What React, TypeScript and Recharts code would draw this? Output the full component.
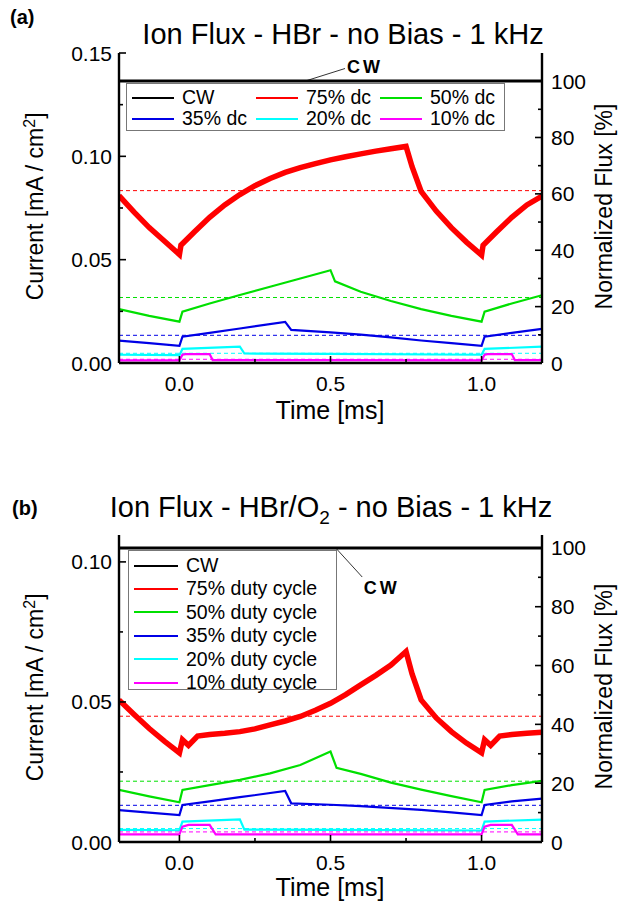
import React from "react";
import {
  LineChart,
  Line,
  XAxis,
  YAxis,
  ReferenceLine,
  ReferenceDot,
  Legend,
} from "recharts";

const FONT = '"Liberation Sans", Arial, sans-serif';

const COLORS = ["#000000", "#ff0000", "#00e000", "#0000e6", "#00ffff", "#ff00ff"];

const X_TICKS = [0, 0.25, 0.5, 0.75, 1.0];
const X_LABELS = [0, 0.5, 1.0];
const R_TICKS = [0, 10, 20, 30, 40, 50, 60, 70, 80, 90, 100];
const R_LABELS = [0, 20, 40, 60, 80, 100];

// ---------- (a) HBr ----------
const A_NAMES = ["CW", "75% dc", "50% dc", "35% dc", "20% dc", "10% dc"];
const A_CW = 0.1364;
const A_YMAX = 0.15;
const A_Y_TICKS = [0, 0.025, 0.05, 0.075, 0.1, 0.125, 0.15];
const A_Y_LABELS = [0, 0.05, 0.1, 0.15];

const A_RED_T = [-0.2, -0.15, -0.1, -0.05, 0, 0.005, 0.05, 0.1, 0.15, 0.2, 0.25, 0.3, 0.35, 0.4, 0.45, 0.5, 0.55, 0.6, 0.65, 0.7, 0.75, 0.77, 0.8, 0.85, 0.9, 0.95, 1.0, 1.005, 1.05, 1.1, 1.15, 1.2];
const A_RED = [0.081, 0.073, 0.0655, 0.059, 0.0525, 0.057, 0.0635, 0.0705, 0.0765, 0.0815, 0.0858, 0.0893, 0.0922, 0.0945, 0.0965, 0.0983, 0.0998, 0.1012, 0.1025, 0.1037, 0.1048, 0.095, 0.083, 0.0735, 0.0655, 0.0585, 0.0522, 0.057, 0.0635, 0.0705, 0.0765, 0.0808];

const A_GREEN_T = [-0.2, -0.1, 0, 0.01, 0.1, 0.2, 0.3, 0.4, 0.5, 0.515, 0.6, 0.7, 0.8, 0.9, 1.0, 1.01, 1.1, 1.2];
const A_GREEN = [0.0261, 0.0228, 0.02, 0.0248, 0.0288, 0.0329, 0.0369, 0.0409, 0.0449, 0.0395, 0.0345, 0.03, 0.0261, 0.0228, 0.02, 0.0248, 0.0288, 0.0328];

const A_BLUE_T = [-0.2, -0.1, 0, 0.01, 0.1, 0.2, 0.35, 0.37, 0.5, 0.6, 0.7, 0.8, 0.9, 1.0, 1.01, 1.1, 1.2];
const A_BLUE = [0.0108, 0.0096, 0.0083, 0.0127, 0.0146, 0.0167, 0.0199, 0.016, 0.0148, 0.0137, 0.0124, 0.0109, 0.0096, 0.0083, 0.0127, 0.0146, 0.0165];

const A_CYAN_T = [-0.2, 0, 0.01, 0.2, 0.215, 0.5, 1.0, 1.01, 1.2];
const A_CYAN = [0.004, 0.0038, 0.0068, 0.0079, 0.0046, 0.0044, 0.004, 0.0068, 0.0079];

const A_MAG_T = [-0.2, 0, 0.01, 0.02, 0.1, 0.11, 0.5, 1.0, 1.01, 1.02, 1.1, 1.11, 1.2];
const A_MAG = [0.0013, 0.0013, 0.004, 0.0043, 0.0043, 0.0014, 0.0014, 0.0013, 0.004, 0.0043, 0.0043, 0.0014, 0.0014];

// time-averaged values (dashed)
const A_MEANS = [0.0834, 0.0317, 0.0134, 0.0047, 0.0018];

// ---------- (b) HBr/O2 ----------
const B_NAMES = ["CW", "75% duty cycle", "50% duty cycle", "35% duty cycle", "20% duty cycle", "10% duty cycle"];
const B_CW = 0.105;
const B_YMAX = 0.1096;
const B_Y_TICKS = [0, 0.025, 0.05, 0.075, 0.1];
const B_Y_LABELS = [0, 0.05, 0.1];

const B_RED_T = [-0.2, -0.15, -0.1, -0.05, 0, 0.01, 0.03, 0.06, 0.1, 0.15, 0.2, 0.25, 0.3, 0.35, 0.4, 0.45, 0.5, 0.55, 0.6, 0.65, 0.7, 0.75, 0.77, 0.8, 0.85, 0.9, 0.95, 1.0, 1.01, 1.03, 1.06, 1.1, 1.15, 1.2];
const B_RED = [0.0507, 0.0455, 0.0405, 0.036, 0.0318, 0.0365, 0.0345, 0.0378, 0.0384, 0.0388, 0.0394, 0.0404, 0.0418, 0.0432, 0.0448, 0.047, 0.0495, 0.0526, 0.0561, 0.0595, 0.0632, 0.068, 0.06, 0.0507, 0.0443, 0.0394, 0.0353, 0.0318, 0.0365, 0.0345, 0.0378, 0.0384, 0.0388, 0.0392];

const B_GREEN_T = [-0.2, -0.1, 0, 0.01, 0.1, 0.2, 0.3, 0.4, 0.5, 0.52, 0.6, 0.7, 0.8, 0.9, 1.0, 1.01, 1.1, 1.2];
const B_GREEN = [0.0186, 0.0163, 0.0142, 0.0186, 0.0203, 0.0222, 0.0245, 0.0275, 0.0323, 0.0265, 0.0243, 0.0212, 0.0187, 0.0164, 0.0142, 0.0186, 0.0203, 0.0218];

const B_BLUE_T = [-0.2, -0.1, 0, 0.01, 0.1, 0.2, 0.35, 0.37, 0.5, 0.6, 0.8, 0.9, 1.0, 1.01, 1.1, 1.2];
const B_BLUE = [0.0114, 0.0105, 0.0096, 0.0132, 0.0145, 0.016, 0.0182, 0.0138, 0.0133, 0.0128, 0.0115, 0.0106, 0.0096, 0.0132, 0.0145, 0.0155];

const B_CYAN_T = [-0.2, 0, 0.01, 0.2, 0.215, 0.5, 1.0, 1.01, 1.2];
const B_CYAN = [0.0043, 0.0042, 0.0073, 0.0081, 0.0044, 0.0043, 0.0041, 0.0073, 0.008];

const B_MAG_T = [-0.2, 0, 0.01, 0.03, 0.1, 0.12, 1.0, 1.01, 1.03, 1.1, 1.12, 1.2];
const B_MAG = [0.0027, 0.0027, 0.0055, 0.0061, 0.0061, 0.0027, 0.0027, 0.0055, 0.0061, 0.0061, 0.0027, 0.0027];

const B_MEANS = [0.0449, 0.0217, 0.0131, 0.0048, 0.0036];

const pts = (t: number[], v: number[]) => t.map((x, i) => ({ t: x, v: v[i] }));

function Tick(props: any) {
  const { x, y, payload, side, labels, fmt } = props;
  const v = payload.value;
  const major = labels ? labels.some((l: number) => Math.abs(l - v) < 1e-9) : true;
  const len = major ? 7 : 4;
  const txt = { fontFamily: FONT, fontSize: 21, fill: "#000" };
  if (side === "bottom")
    return (
      <g>
        <line x1={x} y1={y} x2={x} y2={y - len} stroke="#000" strokeWidth={1.6} />
        {major && labels && (
          <text x={x} y={y + 28} textAnchor="middle" {...txt}>{fmt(v)}</text>
        )}
      </g>
    );
  if (side === "top")
    return <line x1={x} y1={y} x2={x} y2={y + len} stroke="#000" strokeWidth={1.6} />;
  if (side === "left")
    return (
      <g>
        <line x1={x} y1={y} x2={x + len} y2={y} stroke="#000" strokeWidth={1.6} />
        {major && (
          <text x={x - 7} y={y + 7.5} textAnchor="end" {...txt}>{fmt(v)}</text>
        )}
      </g>
    );
  return (
    <g>
      <line x1={x} y1={y} x2={x - len} y2={y} stroke="#000" strokeWidth={1.6} />
      {major && (
        <text x={x + 9} y={y + 7.5} textAnchor="start" {...txt}>{fmt(v)}</text>
      )}
    </g>
  );
}

function LegendBox(props: any) {
  const { names, cols, lineLen, rowH, fontSize } = props;
  return (
    <div
      style={{
        border: "1.3px solid #777",
        background: "#fff",
        boxSizing: "border-box",
        width: "100%",
        height: "100%",
        display: "grid",
        gridTemplateColumns: `repeat(${cols}, 1fr)`,
        gridAutoRows: rowH,
        paddingTop: 3,
        paddingLeft: 5,
      }}
    >
      {names.map((n: string, i: number) => (
        <div key={n} style={{ display: "flex", alignItems: "center", fontFamily: FONT, fontSize, lineHeight: 1 }}>
          <svg width={lineLen + 8} height={6}>
            <line x1={0} y1={3} x2={lineLen} y2={3} stroke={COLORS[i]} strokeWidth={2.2} />
          </svg>
          <span>{n}</span>
        </div>
      ))}
    </div>
  );
}

const axisLine = { stroke: "#000", strokeWidth: 2.4 };

function Panel(props: any) {
  const { h, margin, ymax, cw, yTicks, yLabels, series, means, names, legend, cwLine, cwText } = props;
  const rmax = (ymax / cw) * 100;
  const full = [-0.2, 1.2];
  return (
    <LineChart width={621} height={h} margin={margin}>
      <XAxis xAxisId="b" type="number" dataKey="t" domain={full} allowDataOverflow ticks={X_TICKS} interval={0}
        height={30} tickSize={0} tickMargin={0} axisLine={axisLine} tickLine={false}
        tick={<Tick side="bottom" labels={X_LABELS} fmt={(v: number) => v.toFixed(1)} />} />
      <XAxis xAxisId="t" orientation="top" type="number" dataKey="t" domain={full} allowDataOverflow ticks={X_TICKS} interval={0}
        height={0} tickSize={0} tickMargin={0} axisLine={axisLine} tickLine={false} tick={<Tick side="top" />} />
      <YAxis yAxisId="l" type="number" domain={[0, ymax]} allowDataOverflow ticks={yTicks} interval={0}
        width={60} tickSize={0} tickMargin={0} axisLine={axisLine} tickLine={false}
        tick={<Tick side="left" labels={yLabels} fmt={(v: number) => v.toFixed(2)} />} />
      <YAxis yAxisId="r" orientation="right" type="number" domain={[0, rmax]} allowDataOverflow ticks={R_TICKS} interval={0}
        width={60} tickSize={0} tickMargin={0} axisLine={axisLine} tickLine={false}
        tick={<Tick side="right" labels={R_LABELS} fmt={(v: number) => String(v)} />} />
      {means.map((m: number, i: number) => (
        <ReferenceLine key={"m" + i} xAxisId="b" yAxisId="l" y={m} stroke={COLORS[i + 1]} strokeWidth={1} strokeDasharray="4 3" />
      ))}
      {series.map((d: any[], i: number) => (
        <Line key={names[i]} xAxisId="b" yAxisId="l" data={d} dataKey="v" name={names[i]} type="linear"
          stroke={COLORS[i]} strokeWidth={i === 0 ? 3 : i === 1 ? 5.5 : 2.2} dot={false} isAnimationActive={false} />
      ))}
      <ReferenceLine xAxisId="b" yAxisId="l" segment={cwLine} stroke="#000" strokeWidth={0.8} />
      <ReferenceDot xAxisId="b" yAxisId="l" x={cwText[0]} y={cwText[1]} r={0}
        shape={(p: any) => (
          <text x={p.cx} y={p.cy} fontFamily={FONT} fontWeight="bold" fontSize={18} letterSpacing={3}>CW</text>
        )} />
      <Legend layout="horizontal" verticalAlign="middle" align="center" wrapperStyle={legend.style}
        content={() => <LegendBox names={names} {...legend} />} />
    </LineChart>
  );
}

const abs = (s: any): React.CSSProperties => ({ position: "absolute", fontFamily: FONT, color: "#000", whiteSpace: "nowrap", ...s });

export default function App() {
  const aSeries = [
    pts([-0.2, 1.2], [A_CW, A_CW]),
    pts(A_RED_T, A_RED),
    pts(A_GREEN_T, A_GREEN),
    pts(A_BLUE_T, A_BLUE),
    pts(A_CYAN_T, A_CYAN),
    pts(A_MAG_T, A_MAG),
  ];
  const bSeries = [
    pts([-0.2, 1.2], [B_CW, B_CW]),
    pts(B_RED_T, B_RED),
    pts(B_GREEN_T, B_GREEN),
    pts(B_BLUE_T, B_BLUE),
    pts(B_CYAN_T, B_CYAN),
    pts(B_MAG_T, B_MAG),
  ];
  return (
    <div style={{ position: "absolute", left: 0, top: 0, width: 621, height: 909, background: "#fff" }}>
      {/* panel (a) */}
      <div style={{ position: "absolute", left: 0, top: 0 }}>
        <Panel h={455} margin={{ top: 53, right: 19, bottom: 62, left: 59 }} ymax={A_YMAX} cw={A_CW}
          yTicks={A_Y_TICKS} yLabels={A_Y_LABELS} series={aSeries} means={A_MEANS} names={A_NAMES}
          cwLine={[{ x: 0.416, y: A_CW }, { x: 0.548, y: 0.1425 }]} cwText={[0.555, 0.1405]}
          legend={{ cols: 3, lineLen: 42, rowH: 21, fontSize: 19.5, style: { top: 83, left: 126, width: 379, height: 48 } }} />
        <div style={abs({ left: 10, top: 6, fontSize: 20, fontWeight: "bold" })}>(a)</div>
        <div style={abs({ left: 0, width: 686, top: 18, fontSize: 29, textAlign: "center" })}>Ion Flux - HBr - no Bias - 1 kHz</div>
        <div style={abs({ left: 225, width: 210, top: 396, fontSize: 25, textAlign: "center" })}>Time [ms]</div>
        <div style={abs({ left: 35 - 130, width: 260, top: 192, fontSize: 23, textAlign: "center", transform: "rotate(-90deg)" })}>
          Current [mA / cm<sup style={{ fontSize: 16 }}>2</sup>]
        </div>
        <div style={abs({ left: 604 - 130, width: 260, top: 193, fontSize: 23, textAlign: "center", transform: "rotate(-90deg)" })}>
          Normalized Flux [%]
        </div>
      </div>
      {/* panel (b) */}
      <div style={{ position: "absolute", left: 0, top: 455 }}>
        <Panel h={454} margin={{ top: 80, right: 19, bottom: 37, left: 59 }} ymax={B_YMAX} cw={B_CW}
          yTicks={B_Y_TICKS} yLabels={B_Y_LABELS} series={bSeries} means={B_MEANS} names={B_NAMES}
          cwLine={[{ x: 0.517, y: B_CW }, { x: 0.605, y: 0.0946 }]} cwText={[0.61, 0.0885]}
          legend={{ cols: 1, lineLen: 44, rowH: 23.4, fontSize: 19.5, style: { top: 95, left: 128, width: 209, height: 140 } }} />
        <div style={abs({ left: 12, top: 42, fontSize: 20, fontWeight: "bold" })}>(b)</div>
        <div style={abs({ left: 0, width: 662, top: 36, fontSize: 29, textAlign: "center" })}>
          Ion Flux - HBr/O<sub style={{ fontSize: 19 }}>2</sub> - no Bias - 1 kHz
        </div>
        <div style={abs({ left: 225, width: 210, top: 418, fontSize: 25, textAlign: "center" })}>Time [ms]</div>
        <div style={abs({ left: 35 - 130, width: 260, top: 218, fontSize: 23, textAlign: "center", transform: "rotate(-90deg)" })}>
          Current [mA / cm<sup style={{ fontSize: 16 }}>2</sup>]
        </div>
        <div style={abs({ left: 604 - 130, width: 260, top: 218, fontSize: 23, textAlign: "center", transform: "rotate(-90deg)" })}>
          Normalized Flux [%]
        </div>
      </div>
    </div>
  );
}
